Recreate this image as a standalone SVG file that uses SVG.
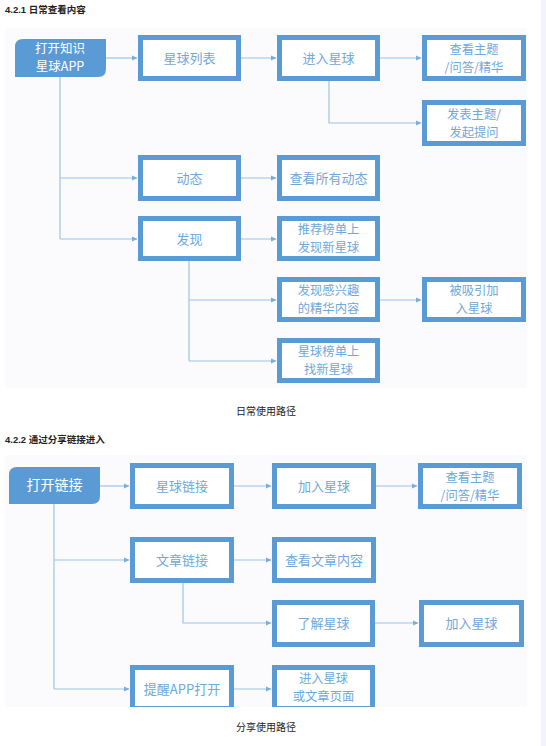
<svg xmlns="http://www.w3.org/2000/svg" width="546" height="746" viewBox="0 0 546 746">
<style>
.title{font-family:"Liberation Sans","Noto Sans CJK SC",sans-serif;font-size:9.5px;font-weight:bold;fill:#222}
.cap{font-family:"Liberation Sans","Noto Sans CJK SC",sans-serif;font-size:10px;fill:#222;text-anchor:middle}
.box{fill:#fff;stroke:#5b9bd5;stroke-width:5}
.start{fill:#5b9bd5}
.t{font-family:"Noto Sans CJK SC","Liberation Sans",sans-serif;font-size:13px;fill:#6fa8dc;text-anchor:middle}
.t2{font-family:"Noto Sans CJK SC","Liberation Sans",sans-serif;font-size:12.3px;fill:#6fa8dc;text-anchor:middle}
.ts{font-family:"Noto Sans CJK SC","Liberation Sans",sans-serif;font-size:14px;fill:#fff;text-anchor:middle}
.ts2{font-family:"Noto Sans CJK SC","Liberation Sans",sans-serif;font-size:12.5px;fill:#fff;text-anchor:middle}
.c{fill:none;stroke:#9dc3e6;stroke-width:1.2}
.panel{fill:#fbfbfd}
</style>
<defs>
<marker id="a" markerWidth="6" markerHeight="6" refX="5" refY="3" orient="auto" markerUnits="userSpaceOnUse">
<path d="M0,0.5 L5.5,3 L0,5.5 Z" fill="#7aaede"/>
</marker>
<clipPath id="clip2"><rect x="0" y="440" width="546" height="267"/></clipPath>
</defs>
<rect x="0" y="0" width="546" height="746" fill="#fff"/>
<rect x="541" y="0" width="5" height="746" fill="#f3f4fb"/>
<rect class="panel" x="5" y="28" width="522" height="360"/>
<rect class="panel" x="5" y="455" width="522" height="252"/>

<text class="title" x="5" y="13">4.2.1 日常查看内容</text>
<text class="cap" x="266" y="415">日常使用路径</text>
<text class="title" x="5" y="443">4.2.2 通过分享链接进入</text>
<text class="cap" x="266" y="731">分享使用路径</text>

<g id="connectors">
<path class="c" d="M106,58 H137" marker-end="url(#a)"/>
<path class="c" d="M241,58 H276" marker-end="url(#a)"/>
<path class="c" d="M380,58 H421" marker-end="url(#a)"/>
<path class="c" d="M329,81 V123 H421" marker-end="url(#a)"/>
<path class="c" d="M60,77 V239"/>
<path class="c" d="M60,178 H137" marker-end="url(#a)"/>
<path class="c" d="M60,239 H137" marker-end="url(#a)"/>
<path class="c" d="M241,178 H276" marker-end="url(#a)"/>
<path class="c" d="M241,239 H276" marker-end="url(#a)"/>
<path class="c" d="M189,261 V361"/>
<path class="c" d="M189,300 H276" marker-end="url(#a)"/>
<path class="c" d="M189,361 H276" marker-end="url(#a)"/>
<path class="c" d="M380,300 H421" marker-end="url(#a)"/>

<path class="c" d="M100,486 H129" marker-end="url(#a)"/>
<path class="c" d="M234,486 H271" marker-end="url(#a)"/>
<path class="c" d="M376,486 H417" marker-end="url(#a)"/>
<path class="c" d="M54,504 V689"/>
<path class="c" d="M54,560 H129" marker-end="url(#a)"/>
<path class="c" d="M54,689 H129" marker-end="url(#a)"/>
<path class="c" d="M234,560 H271" marker-end="url(#a)"/>
<path class="c" d="M183,583 V623 H271" marker-end="url(#a)"/>
<path class="c" d="M375,623 H418" marker-end="url(#a)"/>
<path class="c" d="M234,689 H271" marker-end="url(#a)"/>
</g>

<g id="n-start1">
<path class="start" d="M15,47 Q15,39 23,39 H106 V69 Q106,77 98,77 H15 Z"/>
<text class="ts2" x="60" y="53">打开知识</text>
<text class="ts2" x="60" y="71.3">星球APP</text>
</g>
<g id="n-list">
<rect class="box" x="140.5" y="37.5" width="98" height="41"/>
<text class="t" x="189.5" y="63">星球列表</text>
</g>
<g id="n-enter">
<rect class="box" x="279.5" y="37.5" width="98" height="41"/>
<text class="t" x="328.5" y="63">进入星球</text>
</g>
<g id="n-view">
<rect class="box" x="424.5" y="37.5" width="99" height="41"/>
<text class="t2" x="474" y="53.5">查看主题</text>
<text class="t2" x="474" y="71.5">/问答/精华</text>
</g>
<g id="n-post">
<rect class="box" x="424.5" y="102.5" width="99" height="41"/>
<text class="t2" x="474" y="118.5">发表主题/</text>
<text class="t2" x="474" y="136.5">发起提问</text>
</g>
<g id="n-dyn">
<rect class="box" x="140.5" y="157.5" width="98" height="41"/>
<text class="t" x="189.5" y="183">动态</text>
</g>
<g id="n-alldyn">
<rect class="box" x="279.5" y="157.5" width="98" height="41"/>
<text class="t" x="328.5" y="183">查看所有动态</text>
</g>
<g id="n-disc">
<rect class="box" x="140.5" y="218.5" width="98" height="40"/>
<text class="t" x="189.5" y="244">发现</text>
</g>
<g id="n-rec">
<rect class="box" x="279.5" y="218.5" width="98" height="40"/>
<text class="t2" x="328.5" y="234">推荐榜单上</text>
<text class="t2" x="328.5" y="252">发现新星球</text>
</g>
<g id="n-interest">
<rect class="box" x="279.5" y="279.5" width="98" height="40"/>
<text class="t2" x="328.5" y="295">发现感兴趣</text>
<text class="t2" x="328.5" y="313">的精华内容</text>
</g>
<g id="n-attract">
<rect class="box" x="424.5" y="279.5" width="99" height="40"/>
<text class="t2" x="474" y="295">被吸引加</text>
<text class="t2" x="474" y="313">入星球</text>
</g>
<g id="n-rank">
<rect class="box" x="279.5" y="340.5" width="98" height="40"/>
<text class="t2" x="328.5" y="356">星球榜单上</text>
<text class="t2" x="328.5" y="374">找新星球</text>
</g>

<g id="n-start2">
<path class="start" d="M9,475 Q9,467 17,467 H100 V496 Q100,504 92,504 H9 Z"/>
<text class="ts" x="54.5" y="490">打开链接</text>
</g>
<g id="n-plink">
<rect class="box" x="132.5" y="465.5" width="99" height="41"/>
<text class="t" x="182" y="491">星球链接</text>
</g>
<g id="n-join1">
<rect class="box" x="274.5" y="465.5" width="99" height="41"/>
<text class="t" x="324" y="491">加入星球</text>
</g>
<g id="n-view2">
<rect class="box" x="420.5" y="465.5" width="99" height="41"/>
<text class="t2" x="470" y="481.5">查看主题</text>
<text class="t2" x="470" y="499.5">/问答/精华</text>
</g>
<g id="n-alink">
<rect class="box" x="132.5" y="539.5" width="99" height="41"/>
<text class="t" x="182" y="565">文章链接</text>
</g>
<g id="n-article">
<rect class="box" x="274.5" y="539.5" width="99" height="41"/>
<text class="t" x="324" y="565">查看文章内容</text>
</g>
<g id="n-learn">
<rect class="box" x="274.5" y="602.5" width="98" height="42"/>
<text class="t" x="323.5" y="628">了解星球</text>
</g>
<g id="n-join2">
<rect class="box" x="421.5" y="602.5" width="100" height="42"/>
<text class="t" x="471.5" y="628">加入星球</text>
</g>
<g id="n-remind" clip-path="url(#clip2)">
<rect class="box" x="132.5" y="667.5" width="99" height="41"/>
<text class="t" x="182" y="694">提醒APP打开</text>
</g>
<g id="n-enter2" clip-path="url(#clip2)">
<rect class="box" x="274.5" y="667.5" width="98" height="41"/>
<text class="t2" x="323.5" y="683">进入星球</text>
<text class="t2" x="323.5" y="701">或文章页面</text>
</g>
</svg>
